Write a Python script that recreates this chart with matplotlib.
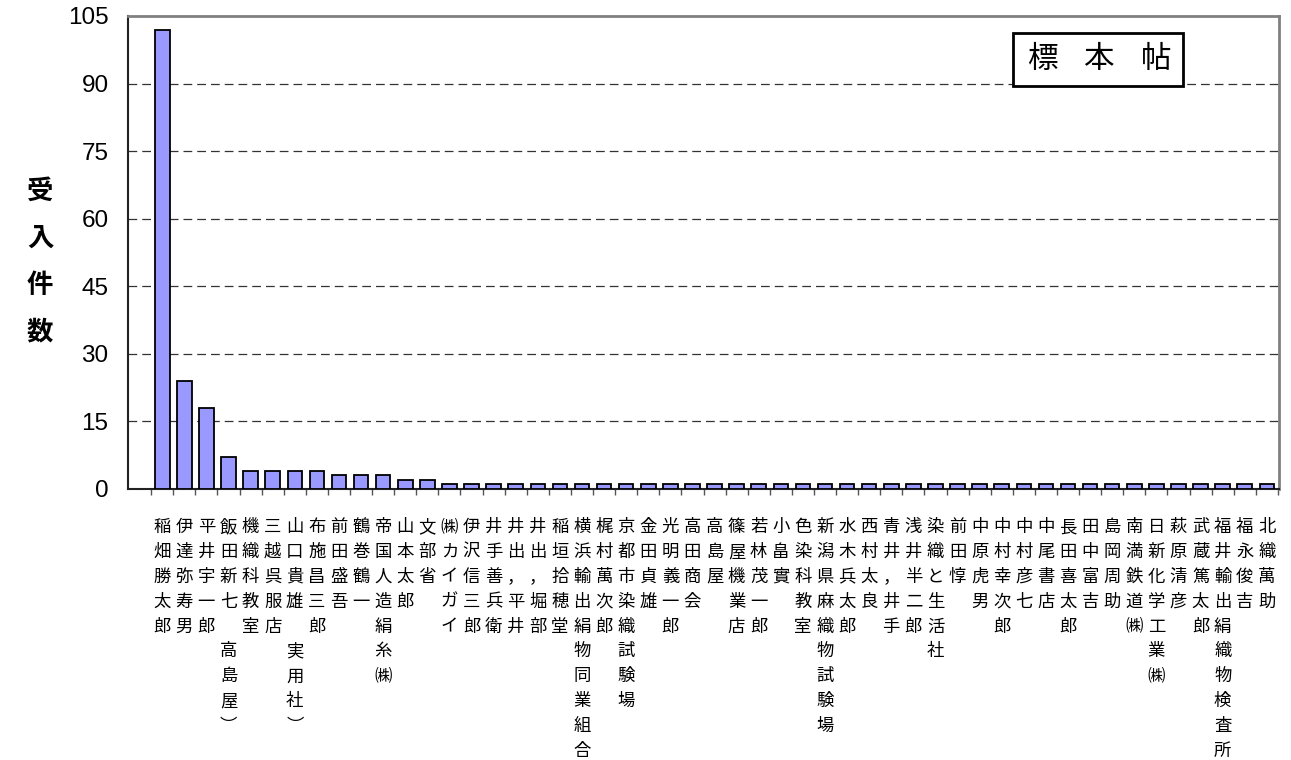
import matplotlib
matplotlib.use("Agg")
import matplotlib.pyplot as plt
from matplotlib.ticker import FixedLocator
from matplotlib.patches import Rectangle

plt.rcParams['font.family'] = ['Noto Sans CJK JP', 'DejaVu Sans']

# 受入先ごとの件数
names = [
    "稲畑勝太郎", "伊達弥寿男", "平井宇一郎", "飯田新七　高島屋︶", "機織科教室",
    "三越呉服店", "山口貴雄　実用社︶", "布施昌三郎", "前田盛吾", "鶴巻鶴一",
    "帝国人造絹糸㈱", "山本太郎", "文部省", "㈱カイガイ", "伊沢信三郎",
    "井手善兵衛", "井出，平井", "井出，堀部", "稲垣拾穂堂", "横浜輸出絹物同業組合",
    "梶村萬次郎", "京都市染織試験場", "金田貞雄", "光明義一郎", "高田商会",
    "高島屋", "篠屋機業店", "若林茂一郎", "小畠實", "色染科教室",
    "新潟県麻織物試験場", "水木兵太郎", "西村太良", "青井，井手", "浅井半二郎",
    "染織と生活社", "前田惇", "中原虎男", "中村幸次郎", "中村彦七",
    "中尾書店", "長田喜太郎", "田中富吉", "島岡周助", "南満鉄道㈱",
    "日新化学工業㈱", "萩原清彦", "武蔵篤太郎", "福井輸出絹織物検査所", "福永俊吉",
    "北織萬助",
]
counts = [102, 24, 18, 7, 4, 4, 4, 4, 3, 3, 3, 2, 2] + [1] * 38
yticks = [0, 15, 30, 45, 60, 75, 90, 105]

fig = plt.figure(figsize=(12.91, 7.60), dpi=100)
ax = fig.add_axes([128 / 1291, 1 - 489 / 760, (1279 - 128) / 1291, (489 - 16) / 760])

x = list(range(len(names)))
ax.bar(x, counts, width=0.66, color='#9999ff', edgecolor='black', linewidth=1.3, zorder=3)

ax.set_ylim(0, 105)
ax.set_xlim(-1.55, len(names) - 0.45)

# 目盛線（破線）
for v in yticks[1:-1]:
    ax.axhline(v, color='#333333', linewidth=0.9, dashes=(7, 4), zorder=1)

ax.set_yticks(yticks)
ax.set_yticklabels([str(v) for v in yticks], family=['Liberation Sans', 'DejaVu Sans'], fontsize=17.5)
ax.tick_params(axis='y', length=0, pad=14)

# 縦書きのラベル
ax.set_xticks(x)
ax.set_xticklabels(["\n".join(n) for n in names], fontsize=12.5, linespacing=1.49, va='top')
ax.tick_params(axis='x', which='major', length=0, pad=21)
ax.xaxis.set_minor_locator(FixedLocator([i - 0.5 for i in range(len(names) + 1)]))
ax.tick_params(axis='x', which='minor', length=4, width=1, color='#555555', direction='out')

for side in ['top', 'right']:
    ax.spines[side].set_color('#808080')
    ax.spines[side].set_linewidth(2)
for side in ['left', 'bottom']:
    ax.spines[side].set_color('#222222')
    ax.spines[side].set_linewidth(1.5)

# 「標本帖」の枠
ax.add_patch(Rectangle((0.769, 0.852), 0.1477, 0.112, transform=ax.transAxes,
                       facecolor='white', edgecolor='black', linewidth=2, zorder=5))
for cx, ch in zip([0.794, 0.843, 0.893], "標本帖"):
    ax.text(cx, 0.907, ch, transform=ax.transAxes, ha='center', va='center',
            fontsize=22, zorder=6)

fig.text(40 / 1291, 1 - 262 / 760, "\n".join("受入件数"), ha='center', va='center',
         fontsize=19, fontweight='bold', linespacing=1.95)

fig.savefig("out.png", dpi=100)
